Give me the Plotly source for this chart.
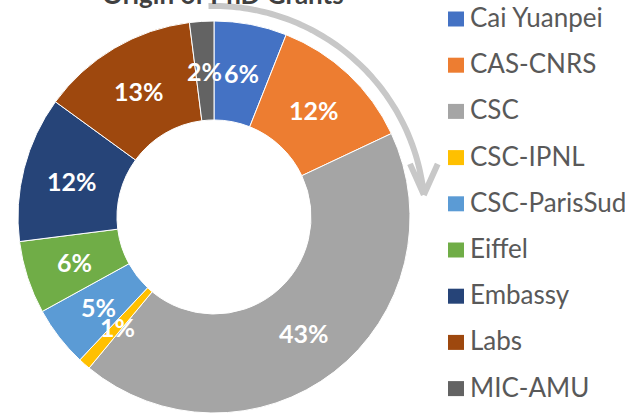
import numpy as np
import plotly.graph_objects as go

# ---- data ----
categories = ["Cai Yuanpei", "CAS-CNRS", "CSC", "CSC-IPNL", "CSC-ParisSud",
              "Eiffel", "Embassy", "Labs", "MIC-AMU"]
shares = [6, 12, 43, 1, 5, 6, 12, 13, 2]
colors = ["#4472C4", "#ED7D31", "#A5A5A5", "#FFC000", "#5B9BD5",
          "#70AD47", "#264478", "#9E480E", "#636363"]
title_text = "Origin of PhD Grants"

# ---- layout geometry (pixels) ----
W, H = 625, 415
cx, cy, R = 214, 217, 196
HOLE = 0.495
FONT = "Lato"

fig = go.Figure()
fig.add_trace(go.Pie(
    labels=categories, values=shares, hole=HOLE, sort=False,
    direction="clockwise", rotation=0,
    marker=dict(colors=colors, line=dict(color="white", width=1)),
    textinfo="none",
    domain=dict(x=[(cx - R) / W, (cx + R) / W],
                y=[(H - cy - R) / H, (H - cy + R) / H]),
    showlegend=False, hoverinfo="label+percent",
))
# invisible trace to activate pixel-space axes for decorations
fig.add_trace(go.Scatter(x=[None], y=[None], showlegend=False, hoverinfo="skip"))

shapes = []
annotations = []

# data labels at the middle of the ring, derived from the shares
vals = np.array(shares, dtype=float)
mid = (np.cumsum(vals) - vals / 2) / vals.sum() * 2 * np.pi
rl = R * (1 + HOLE) / 2
for v, a in zip(shares, mid):
    annotations.append(dict(x=cx + rl * np.sin(a), y=cy - rl * np.cos(a),
                            xref="x", yref="y", text=f"{v}%", showarrow=False,
                            xanchor="center", yanchor="middle",
                            font=dict(family=FONT, size=25, color="white",
                                      weight="bold")))

# curved arrow
ra = 211
th = np.radians(np.linspace(-1.5, 84, 80))
ax_ = cx + ra * np.sin(th)
ay_ = cy - ra * np.cos(th)
tipx, tipy = ax_[-1], ay_[-1]
path = "M " + " L ".join(f"{x:.1f},{y:.1f}" for x, y in zip(ax_, ay_))
for ang in (-24, 24):
    a = np.radians(ang)
    bx, by = 0.0, -1.0
    rx = bx * np.cos(a) - by * np.sin(a)
    ry = bx * np.sin(a) + by * np.cos(a)
    path += f" M {tipx + 34*rx:.1f},{tipy + 34*ry:.1f} L {tipx:.1f},{tipy:.1f}"
shapes.append(dict(type="path", path=path, xref="x", yref="y",
                   line=dict(color="#C8C8C8", width=6), layer="above"))

# legend (manual)
for i, (lab, col) in enumerate(zip(categories, colors)):
    yc = 19 + 46.2 * i
    shapes.append(dict(type="rect", xref="x", yref="y", x0=448, x1=464,
                       y0=yc - 7.5, y1=yc + 7.5, fillcolor=col,
                       line=dict(width=0)))
    annotations.append(dict(x=468, y=yc - 2, xref="x", yref="y", text=lab,
                            showarrow=False, xanchor="left", yanchor="middle",
                            font=dict(family=FONT, size=26, color="#595959")))

# title (partially cut off at the top, as in the reference)
annotations.append(dict(x=223, y=12, xref="x", yref="y", text=title_text,
                        showarrow=False, xanchor="center", yanchor="bottom",
                        font=dict(family=FONT, size=26, color="#404040",
                                  weight="bold")))

fig.update_layout(
    width=W, height=H,
    margin=dict(l=0, r=0, t=0, b=0),
    paper_bgcolor="white", plot_bgcolor="rgba(0,0,0,0)",
    xaxis=dict(range=[0, W], visible=False, domain=[0, 1], fixedrange=True),
    yaxis=dict(range=[H, 0], visible=False, domain=[0, 1], fixedrange=True),
    shapes=shapes, annotations=annotations,
)

fig.write_html("out.html", config={"displayModeBar": False},
               post_script="document.body.style.margin='0px';")
